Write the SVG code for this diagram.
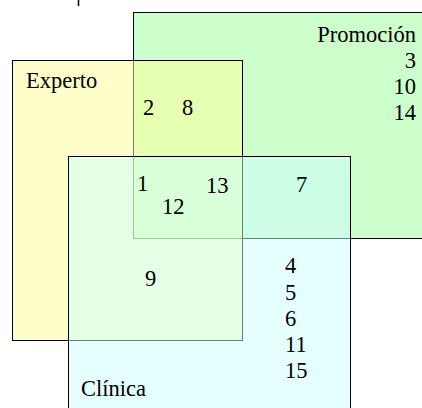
<svg xmlns="http://www.w3.org/2000/svg" width="422" height="408" viewBox="0 0 422 408">
<style>
.set{stroke:#000;stroke-width:1}
.t{font-size:22.5px;fill:#000}
.r{text-anchor:end}
</style>
<rect x="0" y="0" width="422" height="408" fill="#fff"/>
<line x1="78.5" y1="0" x2="78.5" y2="6" stroke="#000" stroke-width="1.5"/>
<g font-family="'Liberation Serif', 'DejaVu Serif', serif">
<g id="promocion">
<rect class="set" x="133.5" y="12.5" width="300" height="226" fill="#ccffcc"/>
<text class="t r" x="416" y="42">Promoción</text>
<text class="t r" x="416" y="68">3</text>
<text class="t r" x="416" y="94">10</text>
<text class="t r" x="416" y="120">14</text>
</g>
<g id="experto">
<rect class="set" x="12.5" y="60.5" width="230" height="280" fill="#ffff99" fill-opacity="0.5"/>
<text class="t" x="26" y="88">Experto</text>
<text class="t" x="143" y="115">2</text>
<text class="t" x="182" y="115">8</text>
</g>
<g id="clinica">
<rect class="set" x="68.5" y="156.5" width="282" height="260" fill="#ccffff" fill-opacity="0.5"/>
<text class="t" x="81" y="396">Clínica</text>
<text class="t" x="137" y="191">1</text>
<text class="t" x="206" y="193">13</text>
<text class="t" x="162" y="214">12</text>
<text class="t" x="296" y="192">7</text>
<text class="t" x="145" y="286">9</text>
<text class="t" x="285" y="273">4</text>
<text class="t" x="285" y="300">5</text>
<text class="t" x="285" y="326">6</text>
<text class="t" x="285" y="352">11</text>
<text class="t" x="285" y="378">15</text>
</g>
</g>
<g id="connectors"/>
</svg>
